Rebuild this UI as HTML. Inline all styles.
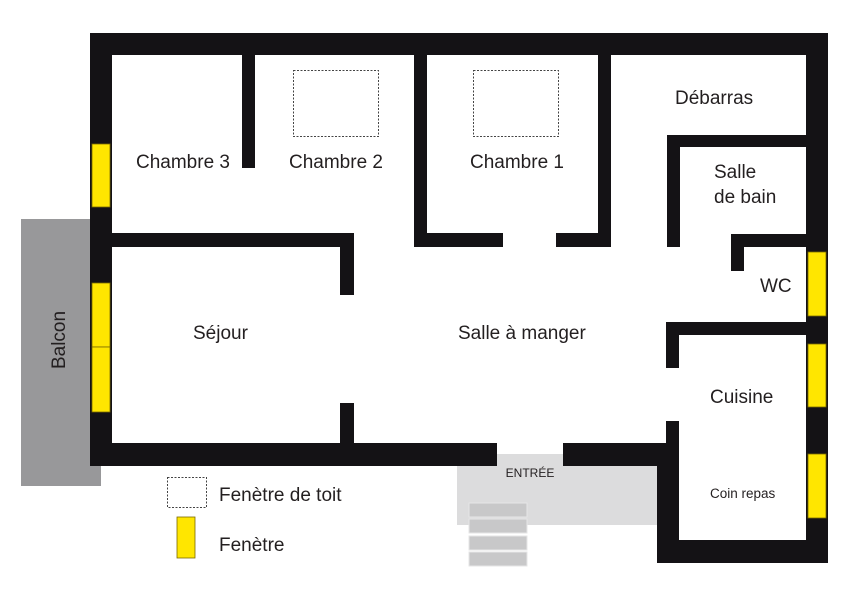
<!DOCTYPE html>
<html><head><meta charset="utf-8"><style>
html,body{margin:0;padding:0;background:#fff;}
svg{display:block;}
text{font-family:"Liberation Sans",sans-serif;fill:#231f20;}
</style></head><body>
<svg width="850" height="600" viewBox="0 0 850 600" xmlns="http://www.w3.org/2000/svg">
<rect x="21" y="219" width="80" height="267" fill="#98989a"/>
<rect x="457" y="454" width="200" height="71" fill="#dcdcdd"/>
<g fill="#c8c8c9" stroke="#e6e6e6" stroke-width="1">
<rect x="469" y="503" width="58" height="14"/>
<rect x="469" y="519" width="58" height="14"/>
<rect x="469" y="536" width="58" height="14"/>
<rect x="469" y="552" width="58" height="14"/>
</g>
<g fill="#141215">
<rect x="90" y="33" width="738" height="22"/>
<rect x="90" y="33" width="22" height="433"/>
<rect x="806" y="33" width="22" height="530"/>
<rect x="90" y="443" width="407" height="23"/>
<rect x="563" y="443" width="116" height="23"/>
<rect x="657" y="443" width="22" height="120"/>
<rect x="657" y="540" width="171" height="23"/>
<rect x="242" y="55" width="13" height="113"/>
<rect x="414" y="55" width="13" height="192"/>
<rect x="112" y="233" width="242" height="14"/>
<rect x="340" y="233" width="14" height="62"/>
<rect x="340" y="403" width="14" height="42"/>
<rect x="414" y="233" width="89" height="14"/>
<rect x="556" y="233" width="55" height="14"/>
<rect x="598" y="55" width="13" height="192"/>
<rect x="667" y="135" width="141" height="12"/>
<rect x="667" y="135" width="13" height="112"/>
<rect x="731" y="234" width="77" height="13"/>
<rect x="731" y="234" width="13" height="37"/>
<rect x="666" y="322" width="142" height="13"/>
<rect x="666" y="322" width="13" height="46"/>
<rect x="666" y="421" width="13" height="24"/>
</g>
<g fill="#ffe600" stroke="#7a6a00" stroke-width="0.8">
<rect x="92" y="144" width="18" height="63"/>
<rect x="92" y="283" width="18" height="64"/>
<rect x="92" y="347" width="18" height="65"/>
<rect x="808" y="252" width="18" height="64"/>
<rect x="808" y="344" width="18" height="63"/>
<rect x="808" y="454" width="18" height="64"/>
<rect x="177" y="517" width="18" height="41"/>
</g>
<g fill="none" stroke="#444" stroke-width="1" stroke-dasharray="2,1.5">
<rect x="293.5" y="70.5" width="85" height="66"/>
<rect x="473.5" y="70.5" width="85" height="66"/>
<rect x="167.5" y="477.5" width="39" height="30"/>
</g>
<g font-size="19">
<text x="183" y="168" text-anchor="middle">Chambre 3</text>
<text x="336" y="168" text-anchor="middle">Chambre 2</text>
<text x="517" y="168" text-anchor="middle">Chambre 1</text>
<text x="675" y="104">Débarras</text>
<text x="714" y="178">Salle</text>
<text x="714" y="203">de bain</text>
<text x="760" y="292">WC</text>
<text x="193" y="339">Séjour</text>
<text x="458" y="339">Salle à manger</text>
<text x="710" y="403">Cuisine</text>
<text x="219" y="501">Fenètre de toit</text>
<text x="219" y="551">Fenètre</text>
<text transform="translate(65,340) rotate(-90)" text-anchor="middle">Balcon</text>
</g>
<text x="710" y="498" font-size="13.5">Coin repas</text>
<text x="530" y="477" font-size="12" text-anchor="middle">ENTRÉE</text>
</svg>
</body></html>
